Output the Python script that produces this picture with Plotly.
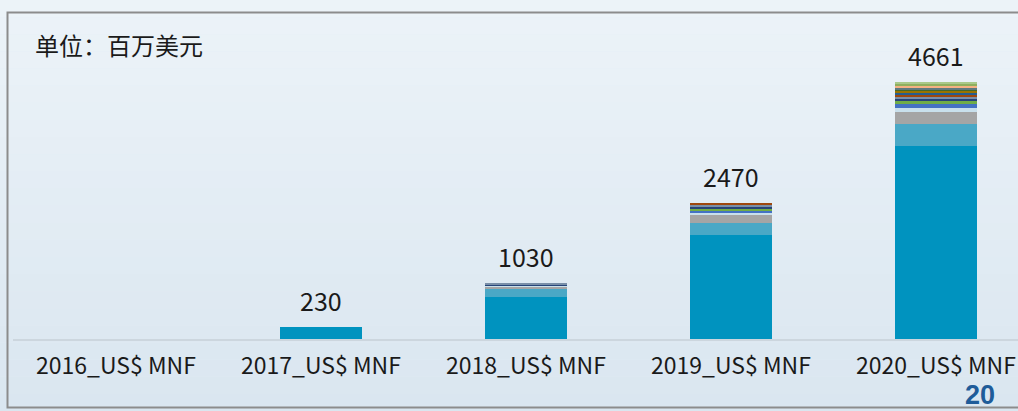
import plotly.graph_objects as go

categories = ["2016_US$ MNF", "2017_US$ MNF", "2018_US$ MNF", "2019_US$ MNF", "2020_US$ MNF"]
totals = [None, 230, 1030, 2470, 4661]

# stacked segments (bottom -> top), values in US$ million
series_names = ["系列1", "系列2", "系列3", "系列4", "系列5", "系列6", "系列7", "系列8",
                "系列9", "系列10", "系列11", "系列12", "系列13", "系列14", "系列15", "系列16"]
s1 = [0, 230, 783, 1900, 3501]
s2 = [0, 0, 145, 205, 405]
s3 = [0, 0, 30, 150, 210]
s4 = [0, 0, 22, 40, 78]
s5 = [0, 0, 0, 50, 78]
s6 = [0, 0, 0, 25, 55]
s7 = [0, 0, 30, 28, 36]
s8 = [0, 0, 20, 50, 36]
s9 = [0, 0, 0, 22, 36]
s10 = [0, 0, 0, 0, 30]
s11 = [0, 0, 0, 0, 36]
s12 = [0, 0, 0, 0, 30]
s13 = [0, 0, 0, 0, 30]
s14 = [0, 0, 0, 0, 40]
s15 = [0, 0, 0, 0, 30]
s16 = [0, 0, 0, 0, 30]
series_values = [s1, s2, s3, s4, s5, s6, s7, s8, s9, s10, s11, s12, s13, s14, s15, s16]
series_colors = ["#0093BF", "#4AA8C6", "#A5A5A5", "#C9E0EC", "#4472C4", "#70AD47", "#264478", "#7A8FA8",
                 "#9E480E", "#255E91", "#997300", "#43682B", "#5D7A80", "#F4B183", "#8FAF5E", "#A9C98A"]

W, H = 1018, 411
MT, MB = 12, 71
PH = H - MT - MB  # plot height in px


def px_x(px):
    return px / W


def px_y(py):
    return (H - MB - py) / PH


fig = go.Figure()

# background gradient bands
bg_top = (236, 243, 248)
bg_bot = (218, 230, 240)
nb = 24
for i in range(nb):
    t = i / (nb - 1)
    c = tuple(round(bg_top[k] + (bg_bot[k] - bg_top[k]) * t) for k in range(3))
    fig.add_shape(type="rect", xref="paper", yref="paper",
                  x0=0, x1=1, y0=px_y(H * (i + 1) / nb), y1=px_y(H * i / nb),
                  fillcolor="rgb(%d,%d,%d)" % c, line_width=0, layer="below")

for name, vals, col in zip(series_names, series_values, series_colors):
    fig.add_trace(go.Bar(x=categories, y=vals, name=name, marker_color=col,
                         marker_line_width=0, width=0.4))

for cat, tot in zip(categories, totals):
    if tot is not None:
        fig.add_annotation(x=cat, y=tot, text=str(tot), showarrow=False,
                           yanchor="bottom", yshift=7,
                           font=dict(size=25, color="#1a1a1a", family="Noto Sans CJK SC"))

fig.add_annotation(xref="paper", yref="paper", x=px_x(33), y=px_y(45), yanchor="middle",
                   xanchor="left", text="单位：百万美元", showarrow=False,
                   font=dict(size=24, color="#1a1a1a", family="Noto Sans CJK SC"))

# axis baseline
fig.add_shape(type="line", xref="paper", yref="paper", x0=px_x(13), x1=1.01,
              y0=0, y1=0, line=dict(color="#CCD6DE", width=2))
# frame
fig.add_shape(type="rect", xref="paper", yref="paper", x0=px_x(7.5), x1=1.01,
              y0=px_y(407.5), y1=px_y(12.5),
              line=dict(color="#8C8C8C", width=2), fillcolor="rgba(0,0,0,0)")

fig.add_annotation(xref="paper", yref="paper", x=px_x(980), y=px_y(410.5), yanchor="bottom",
                   xanchor="center", text="<b>20</b>", showarrow=False, borderpad=0,
                   font=dict(size=27, color="#1F5C99", family="Liberation Sans"))

fig.update_layout(
    width=W, height=H,
    barmode="stack",
    showlegend=False,
    margin=dict(l=0, r=0, t=MT, b=MB),
    paper_bgcolor="#E3EDF5",
    plot_bgcolor="rgba(0,0,0,0)",
    xaxis=dict(type="category", range=[-116 / 205, (W - 116) / 205],
               showgrid=False, zeroline=False, showline=False, ticks="",
               ticklabelstandoff=10,
               tickfont=dict(size=23, color="#1a1a1a", family="Noto Sans CJK SC")),
    yaxis=dict(range=[0, 4661 * PH / 258], visible=False, showgrid=False),
)

fig.write_html("out.html", config={"displayModeBar": False},
               post_script="document.body.style.margin='0';document.body.style.overflow='hidden';")
